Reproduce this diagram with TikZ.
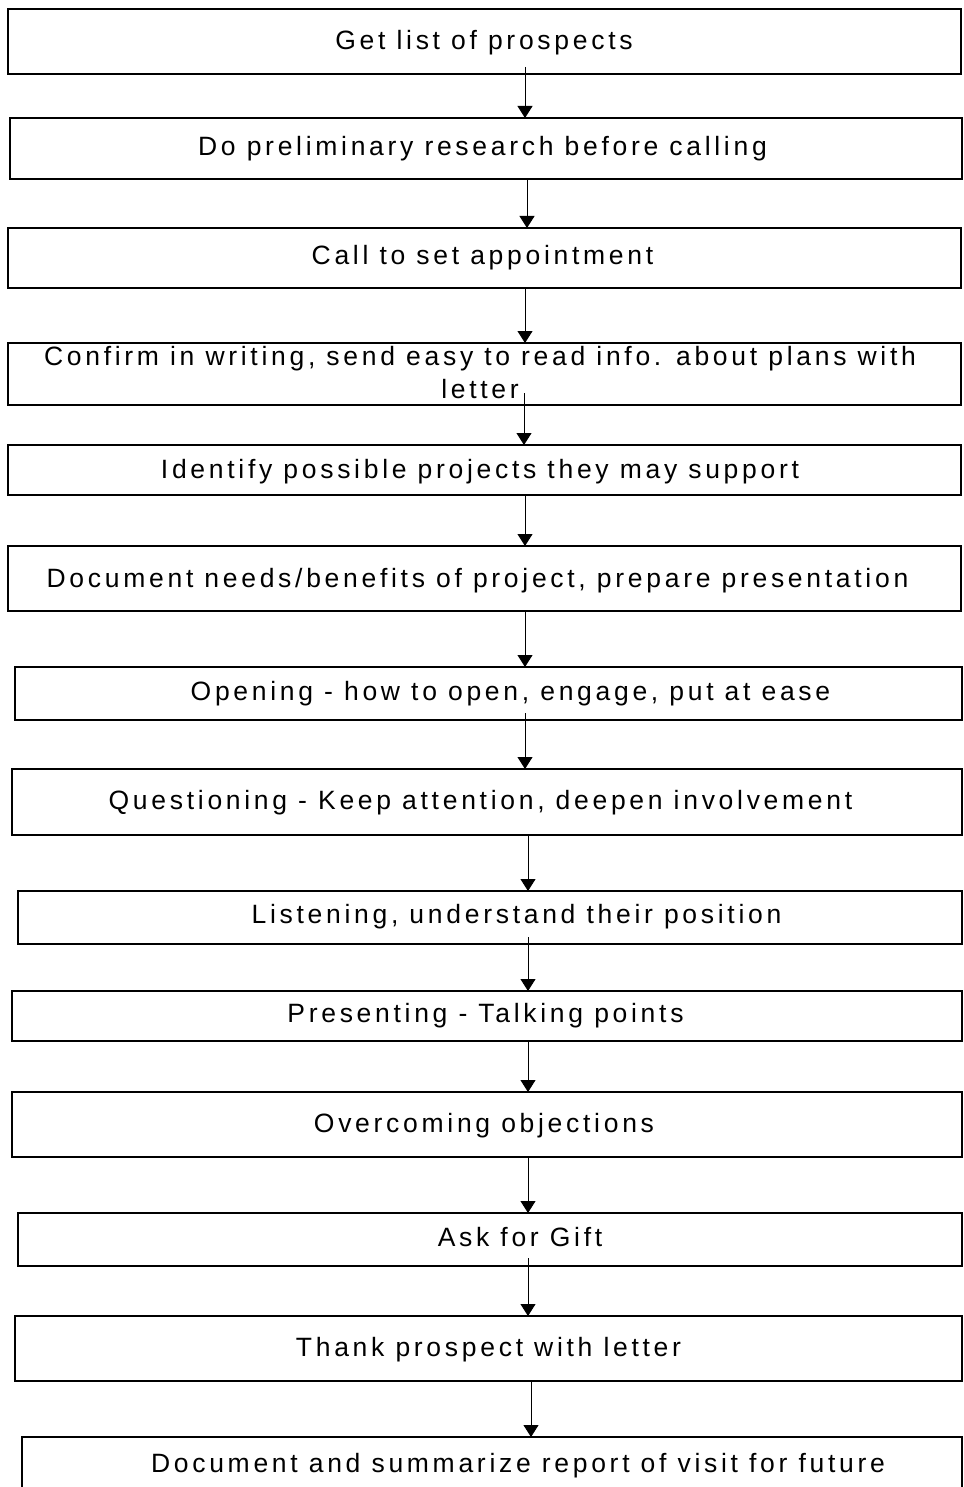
\documentclass[tikz,border=0pt]{standalone}
\usepackage{fontspec}
\setmainfont{Liberation Sans}[LetterSpace=14]
\usetikzlibrary{arrows.meta}

% \boxat{name}{left}{top}{right}{bottom}: an empty framed step box
\newcommand\boxat[5]{%
  \node[flowbox, minimum width={(#4)-(#2)}, minimum height={(#5)-(#3)}]
    (#1) at ({((#2)+(#4))/2},{((#3)+(#5))/2}) {};}

\begin{document}
\begin{tikzpicture}[x=1pt,y=-1pt,
  flowbox/.style={draw, line width=1.5pt, inner sep=0pt, outer sep=0pt},
  lbl/.style={font=\fontsize{26.5}{33}\selectfont, inner sep=0pt, anchor=base, align=center},
  flow/.style={line width=0.9pt, -{Triangle[width=15pt,length=12pt]}}]
\clip (0,0) rectangle (963,1487);
\fill[white] (0,0) rectangle (963,1487);

% step boxes
\boxat{b1}{8}{9}{961}{74}
\boxat{b2}{10}{118}{962}{179}
\boxat{b3}{8}{228}{961}{288}
\boxat{b4}{8}{343}{961}{405}
\boxat{b5}{8}{445}{961}{495}
\boxat{b6}{8}{546}{961}{611}
\boxat{b7}{15}{667}{962}{720}
\boxat{b8}{12}{769}{962}{835}
\boxat{b9}{18}{891}{962}{944}
\boxat{b10}{12}{991}{962}{1041}
\boxat{b11}{12}{1092}{962}{1157}
\boxat{b12}{18}{1213}{962}{1266}
\boxat{b13}{15}{1316}{962}{1381}
\boxat{b14}{22}{1437}{962}{1510}

% labels (a two-line label sits on its last baseline)
\node[lbl] (t1) at (484,50) {Get list of prospects};
\node[lbl] (t2) at (482.5,156) {Do preliminary research before calling};
\node[lbl] (t3) at (482.5,265) {Call to set appointment};
\node[lbl] (t4) at (480,398) {Confirm in writing, send easy to read info. about plans with\\letter};
\node[lbl] (t5) at (480,478) {Identify possible projects they may support};
\node[lbl] (t6) at (477.5,587) {Document needs/benefits of project, prepare presentation};
\node[lbl] (t7) at (510.5,700) {Opening - how to open, engage, put at ease};
\node[lbl] (t8) at (480.5,809) {Questioning - Keep attention, deepen involvement};
\node[lbl] (t9) at (516.5,923) {Listening, understand their position};
\node[lbl] (t10) at (485.5,1022) {Presenting - Talking points};
\node[lbl] (t11) at (484,1132) {Overcoming objections};
\node[lbl] (t12) at (520,1246) {Ask for Gift};
\node[lbl] (t13) at (488.5,1356) {Thank prospect with letter};
\node[lbl] (t14) at (518,1472) {Document and summarize report of visit for future};

% connector start points
\coordinate (s1) at (525,67);
\coordinate (s2) at (527,179);
\coordinate (s3) at (525,288);
\coordinate (s4) at (524,393);
\coordinate (s5) at (525,495);
\coordinate (s6) at (525,611);
\coordinate (s7) at (525,713);
\coordinate (s8) at (528,835);
\coordinate (s9) at (528,937);
\coordinate (s10) at (528,1041);
\coordinate (s11) at (528,1157);
\coordinate (s12) at (528,1258);
\coordinate (s13) at (531,1381);

% connectors
\draw[flow] (s1) -- (s1 |- b2.north);
\draw[flow] (s2) -- (s2 |- b3.north);
\draw[flow] (s3) -- (s3 |- b4.north);
\draw[flow] (s4) -- (s4 |- b5.north);
\draw[flow] (s5) -- (s5 |- b6.north);
\draw[flow] (s6) -- (s6 |- b7.north);
\draw[flow] (s7) -- (s7 |- b8.north);
\draw[flow] (s8) -- (s8 |- b9.north);
\draw[flow] (s9) -- (s9 |- b10.north);
\draw[flow] (s10) -- (s10 |- b11.north);
\draw[flow] (s11) -- (s11 |- b12.north);
\draw[flow] (s12) -- (s12 |- b13.north);
\draw[flow] (s13) -- (s13 |- b14.north);
\end{tikzpicture}
\end{document}
